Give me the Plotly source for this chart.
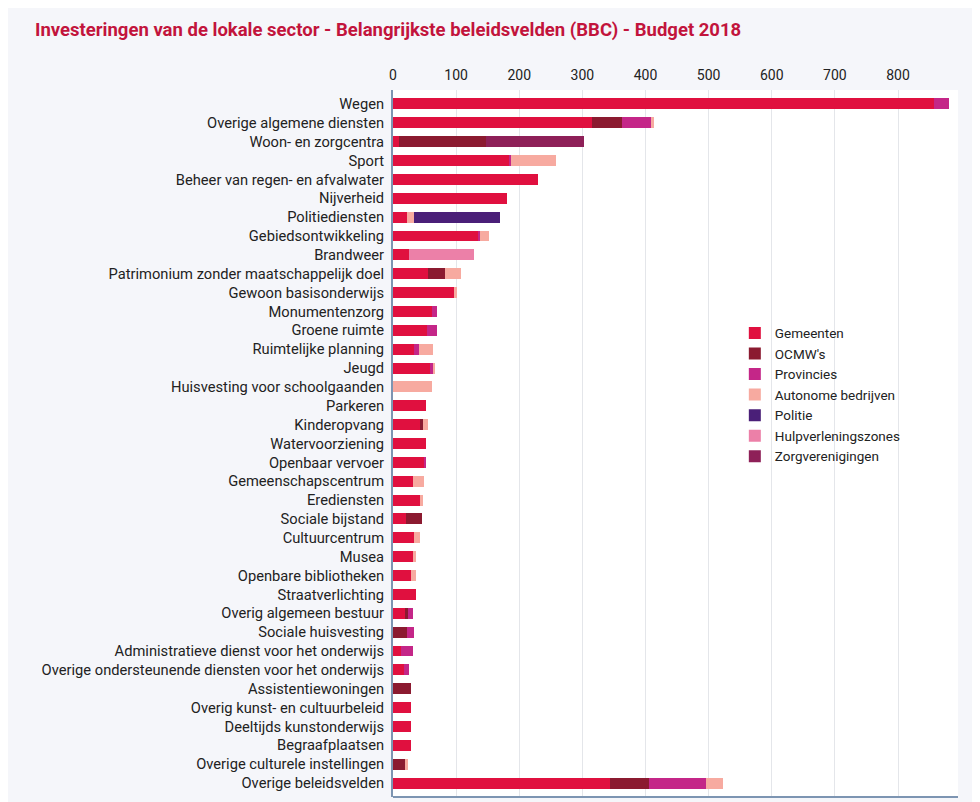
import plotly.graph_objects as go

categories = [
    "Wegen", "Overige algemene diensten", "Woon- en zorgcentra", "Sport",
    "Beheer van regen- en afvalwater", "Nijverheid", "Politiediensten",
    "Gebiedsontwikkeling", "Brandweer", "Patrimonium zonder maatschappelijk doel",
    "Gewoon basisonderwijs", "Monumentenzorg", "Groene ruimte", "Ruimtelijke planning",
    "Jeugd", "Huisvesting voor schoolgaanden", "Parkeren", "Kinderopvang",
    "Watervoorziening", "Openbaar vervoer", "Gemeenschapscentrum", "Erediensten",
    "Sociale bijstand", "Cultuurcentrum", "Musea", "Openbare bibliotheken",
    "Straatverlichting", "Overig algemeen bestuur", "Sociale huisvesting",
    "Administratieve dienst voor het onderwijs",
    "Overige ondersteunende diensten voor het onderwijs", "Assistentiewoningen",
    "Overig kunst- en cultuurbeleid", "Deeltijds kunstonderwijs", "Begraafplaatsen",
    "Overige culturele instellingen", "Overige beleidsvelden",
]

gemeenten = [857, 315, 9, 184, 229, 181, 22, 136, 25, 55, 97, 61, 54, 34, 60, 0, 52, 44,
             52, 50, 32, 43, 20, 34, 32, 29, 36, 19, 0, 13, 18, 0, 28, 28, 28, 0, 343]
ocmw = [0, 48, 139, 0, 0, 0, 0, 0, 0, 27, 0, 0, 0, 0, 0, 0, 0, 3,
        0, 0, 0, 0, 26, 0, 0, 0, 0, 5, 22, 0, 0, 28, 0, 0, 0, 19.5, 63]
provincies = [24, 45, 0, 3, 0, 0, 0, 2, 0, 0, 0, 9, 16, 7, 3, 0, 0, 0,
              0, 2, 0, 0, 0, 0, 0, 0, 0, 8, 12, 18, 8, 0, 0, 0, 0, 0, 90]
autonome = [0, 6, 0, 71, 0, 0, 11, 14, 0, 26, 5, 0, 0, 22, 4, 61, 0, 8,
            0, 0, 17, 5, 0, 8, 5, 7, 0, 0, 0, 0, 0, 0, 0, 0, 0, 4, 27]
politie = [0, 0, 0, 0, 0, 0, 136, 0, 0, 0, 0, 0, 0, 0, 0, 0, 0, 0,
           0, 0, 0, 0, 0, 0, 0, 0, 0, 0, 0, 0, 0, 0, 0, 0, 0, 0, 0]
hulpverlening = [0, 0, 0, 0, 0, 0, 0, 0, 104, 0, 0, 0, 0, 0, 0, 0, 0, 0,
                 0, 0, 0, 0, 0, 0, 0, 0, 0, 0, 0, 0, 0, 0, 0, 0, 0, 0, 0]
zorgverenigingen = [0, 0, 155, 0, 0, 0, 0, 0, 0, 0, 0, 0, 0, 0, 0, 0, 0, 0,
                    0, 0, 0, 0, 0, 0, 0, 0, 0, 0, 0, 0, 0, 0, 0, 0, 0, 0, 0]

series = [
    ("Gemeenten", gemeenten, "#e0103f"),
    ("OCMW's", ocmw, "#8b1a30"),
    ("Provincies", provincies, "#c42688"),
    ("Autonome bedrijven", autonome, "#f7aaa0"),
    ("Politie", politie, "#4a1f78"),
    ("Hulpverleningszones", hulpverlening, "#ec80a8"),
    ("Zorgverenigingen", zorgverenigingen, "#8e2058"),
]

x_ticks = [0, 100, 200, 300, 400, 500, 600, 700, 800]

fig = go.Figure()
for name, vals, color in series:
    fig.add_trace(go.Bar(
        y=categories, x=vals, name=name, orientation="h",
        marker=dict(color=color, line=dict(width=0)),
    ))

fig.update_layout(
    barmode="stack",
    bargap=0.42,
    width=980, height=802,
    margin=dict(l=385, r=30, t=82, b=13, autoexpand=False),
    paper_bgcolor="#f5f6fa",
    plot_bgcolor="#ffffff",
    font=dict(family="Roboto, Open Sans, sans-serif", color="#222222"),
    title=dict(
        text="<b>Investeringen van de lokale sector - Belangrijkste beleidsvelden (BBC) - Budget 2018</b>",
        x=0.0276, xanchor="left", y=0.9726, yanchor="middle",
        font=dict(size=18.5, color="#c2143c", family="Roboto, sans-serif"),
    ),
    legend=dict(
        x=0.605, y=0.678, xanchor="left", yanchor="top",
        bgcolor="rgba(255,255,255,0)", font=dict(size=13.5, color="#222222"),
        traceorder="normal", itemwidth=30, tracegroupgap=0,
    ),
    showlegend=True,
)

fig.update_xaxes(
    side="top", range=[0, 895], tickvals=x_ticks, ticktext=[str(v) for v in x_ticks],
    showgrid=True, gridcolor="#e4e6ea", gridwidth=1, zeroline=False,
    tickfont=dict(size=14, color="#222222"), ticks="", showline=False,
    ticklabelstandoff=6, fixedrange=True, automargin=False,
)
fig.update_yaxes(
    categoryorder="array", categoryarray=categories,
    range=[36.74, -0.74], showgrid=False, zeroline=False,
    showline=True, linecolor="#7d95b2", linewidth=2,
    tickfont=dict(size=14.7, color="#222222"), ticks="", ticklabelstandoff=4,
    automargin=False,
)

fig.add_shape(type="line", xref="paper", yref="paper", x0=0, x1=1, y0=0, y1=0,
              line=dict(color="#7d95b2", width=2))

fig.write_html("out.html")
